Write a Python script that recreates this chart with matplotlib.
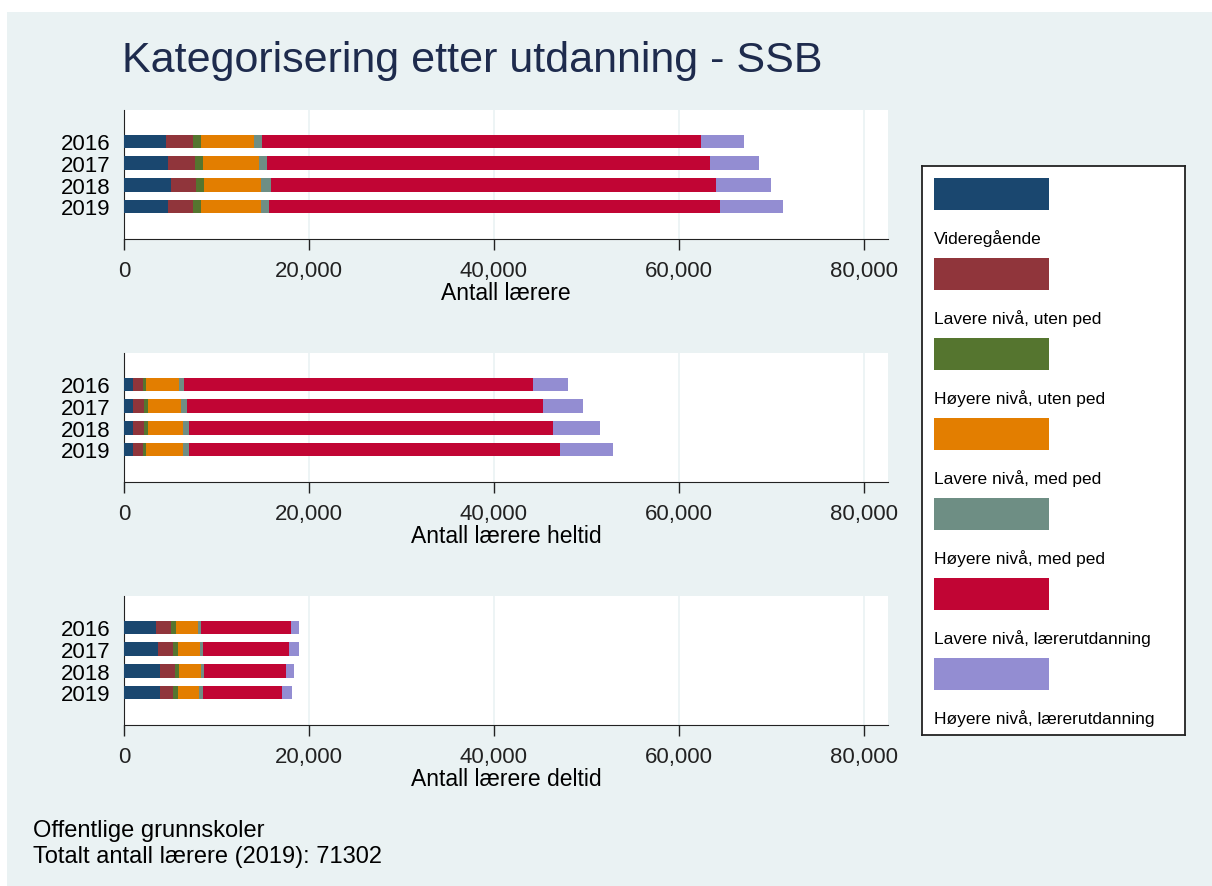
import numpy as np
import matplotlib.pyplot as plt
from matplotlib.patches import Rectangle

plt.rcParams['font.family'] = ['Liberation Sans', 'DejaVu Sans']

years = ["2016", "2017", "2018", "2019"]
kategorier = ["Videregående", "Lavere nivå, uten ped", "Høyere nivå, uten ped",
              "Lavere nivå, med ped", "Høyere nivå, med ped",
              "Lavere nivå, lærerutdanning", "Høyere nivå, lærerutdanning"]
farger = ["#1a476f", "#90353b", "#55752f", "#e37e00", "#6e8e84", "#c10534", "#938dd2"]

# rows = years, columns = categories
totalt = [[4580, 2850, 900, 5720, 910, 47460, 4640],
          [4760, 2880, 900, 6060, 900, 47810, 5380],
          [5120, 2700, 870, 6120, 1080, 48150, 5900],
          [4760, 2670, 900, 6480, 870, 48720, 6900]]
heltid = [[975, 1075, 300, 3640, 540, 37730, 3740],
          [975, 1225, 360, 3600, 690, 38490, 4280],
          [975, 1225, 400, 3750, 680, 39350, 5040],
          [975, 1075, 330, 3970, 680, 40100, 5730]]
deltid = [[3460, 1620, 540, 2350, 360, 9690, 870],
          [3680, 1620, 500, 2380, 330, 9330, 1050],
          [3860, 1620, 510, 2340, 360, 8790, 900],
          [3860, 1400, 540, 2350, 360, 8610, 1080]]
xlabels = ["Antall lærere", "Antall lærere heltid", "Antall lærere deltid"]
xticks = [0, 20000, 40000, 60000, 80000]

W, H = 1212, 887
bg = "#eaf2f3"
fig = plt.figure(figsize=(W / 100, H / 100), dpi=100, facecolor="white")
fig.patches.append(Rectangle((7 / W, 0), 1, 1 - 13 / H, transform=fig.transFigure,
                             facecolor=bg, edgecolor="none", zorder=-10))

fig.text(122 / W, 1 - 61 / H, "Kategorisering etter utdanning - SSB", fontsize=31,
         color="#1e2b4d", va="center", ha="left")

panels = [totalt, heltid, deltid]
tops = [111, 354, 597]
for data, top, xl in zip(panels, tops, xlabels):
    ax = fig.add_axes([124 / W, 1 - (top + 129) / H, 764 / W, 129 / H])
    ax.set_facecolor("white")
    arr = np.array(data)
    y = np.arange(len(years))
    left = np.zeros(len(years))
    for j in range(arr.shape[1]):
        ax.barh(y, arr[:, j], left=left, height=0.62, color=farger[j], zorder=3)
        left += arr[:, j]
    ax.set_xlim(0, 82600)
    ax.set_ylim(4.5, -1.45)
    ax.set_yticks(y)
    ax.set_yticklabels(years)
    ax.set_xticks(xticks)
    ax.set_xticklabels([f"{v:,}" for v in xticks])
    ax.tick_params(axis="y", length=0, pad=10, labelsize=16)
    ax.tick_params(axis="x", length=8, width=1, pad=7, labelsize=16, colors="#222222")
    ax.xaxis.grid(True, color=bg, linewidth=1.2, zorder=0)
    for s in ["top", "right"]:
        ax.spines[s].set_visible(False)
    for s in ["left", "bottom"]:
        ax.spines[s].set_color("#222222")
    ax.set_xlabel(xl, fontsize=16.5, labelpad=0)

# legend box
lg = fig.add_axes([922 / W, 1 - 736 / H, 263 / W, 569 / H])
lg.set_xlim(0, 263)
lg.set_ylim(569, 0)
lg.set_xticks([])
lg.set_yticks([])
lg.set_facecolor("white")
for s in lg.spines.values():
    s.set_color("#222222")
    s.set_linewidth(1.3)
for i, (k, c) in enumerate(zip(kategorier, farger)):
    lg.add_patch(Rectangle((12, 12 + 80 * i), 115, 32, facecolor=c, edgecolor="none"))
    lg.text(12, 72 + 80 * i, k, fontsize=12.5, va="center", ha="left")

fig.text(33 / W, 1 - 831 / H, "Offentlige grunnskoler", fontsize=17, va="center")
fig.text(33 / W, 1 - 857 / H, "Totalt antall lærere (2019): 71302", fontsize=17, va="center")

fig.savefig("out.png", dpi=100, facecolor=fig.get_facecolor())
